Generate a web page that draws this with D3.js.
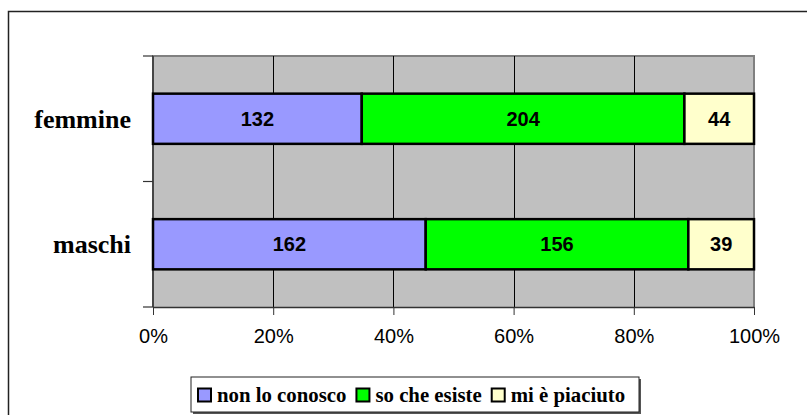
<!DOCTYPE html>
<html>
<head>
<meta charset="utf-8">
<script src="https://cdn.jsdelivr.net/npm/d3@7"></script>
<style>
  html, body { margin: 0; padding: 0; background: #fff; }
  svg { display: block; }
</style>
</head>
<body>
<svg id="chart" width="807" height="415"></svg>
<script>
/* ── DATA ── */
const categories = ['femmine', 'maschi'];
const seriesNames = ['non lo conosco', 'so che esiste', 'mi è piaciuto'];
const seriesColors = ['#9999ff', '#00ff00', '#ffffcc'];
const nonLoConosco = [132, 162];
const soCheEsiste = [204, 156];
const miEPiaciuto = [44, 39];
const tickValues = [0, 0.2, 0.4, 0.6, 0.8, 1];
const tickLabels = ['0%', '20%', '40%', '60%', '80%', '100%'];

/* ── CHART ── */
(function () {
  const svg = d3.select('#chart');
  const P = { left: 153, right: 754, top: 56, bottom: 307 };
  const SANS = '"Liberation Sans", Arial, sans-serif';
  const SERIF = '"Liberation Serif", "Times New Roman", serif';

  // outer frame (only top + left visible)
  svg.append('path')
    .attr('d', 'M8.5,415V11.5H807')
    .attr('fill', 'none').attr('stroke', '#222').attr('stroke-width', 1.5);

  const rows = categories.map((c, i) => ({
    cat: c,
    [seriesNames[0]]: nonLoConosco[i],
    [seriesNames[1]]: soCheEsiste[i],
    [seriesNames[2]]: miEPiaciuto[i]
  }));
  const stacked = d3.stack().keys(seriesNames).offset(d3.stackOffsetExpand)(rows);

  const x = d3.scaleLinear().domain([0, 1]).range([P.left, P.right]);
  const y = d3.scaleBand().domain(categories).range([P.top, P.bottom])
    .paddingInner(0.6).paddingOuter(0.3);

  // plot area
  svg.append('rect')
    .attr('x', P.left).attr('y', P.top)
    .attr('width', P.right - P.left).attr('height', P.bottom - P.top)
    .attr('fill', '#c0c0c0');
  svg.append('path')
    .attr('d', `M${P.left},${P.bottom}V${P.top}H${P.right}V${P.bottom}`)
    .attr('fill', 'none').attr('stroke', '#808080').attr('stroke-width', 2);

  // grid
  svg.append('g')
    .selectAll('line').data(tickValues.slice(1, -1)).join('line')
    .attr('x1', d => Math.round(x(d)) + 0.5).attr('x2', d => Math.round(x(d)) + 0.5)
    .attr('y1', P.top).attr('y2', P.bottom)
    .attr('stroke', '#000').attr('stroke-width', 1);

  // axes
  const xAxis = svg.append('g')
    .attr('transform', `translate(0,${P.bottom})`)
    .call(d3.axisBottom(x).tickValues(tickValues).tickFormat((d, i) => tickLabels[i])
      .tickSize(8).tickSizeOuter(0).tickPadding(14));
  xAxis.select('.domain').attr('stroke', '#333').attr('stroke-width', 1.5);
  xAxis.selectAll('.tick line').attr('stroke', '#333');
  xAxis.selectAll('text').attr('fill', '#000')
    .style('font-family', SANS).style('font-size', '20px');

  const yTicks = [P.top, (P.top + P.bottom) / 2, P.bottom];
  svg.append('line')
    .attr('x1', P.left).attr('x2', P.left).attr('y1', P.top).attr('y2', P.bottom)
    .attr('stroke', '#333').attr('stroke-width', 1.5);
  svg.append('g').selectAll('line').data(yTicks).join('line')
    .attr('x1', P.left - 10).attr('x2', P.left)
    .attr('y1', d => d).attr('y2', d => d)
    .attr('stroke', '#333').attr('stroke-width', 1.2);

  // category labels
  svg.append('g').selectAll('text').data(categories).join('text')
    .attr('x', 131).attr('y', d => y(d) + y.bandwidth() / 2)
    .attr('dy', '0.35em').attr('text-anchor', 'end')
    .style('font-family', SERIF).style('font-size', '26px').style('font-weight', 'bold')
    .text(d => d);

  // bars
  const layers = svg.append('g').selectAll('g').data(stacked).join('g')
    .attr('fill', (d, i) => seriesColors[i]);
  layers.selectAll('rect').data(d => d).join('rect')
    .attr('x', d => x(d[0])).attr('y', d => y(d.data.cat))
    .attr('width', d => x(d[1]) - x(d[0])).attr('height', y.bandwidth())
    .attr('stroke', '#000').attr('stroke-width', 2.5);

  // value labels
  layers.selectAll('text').data((d, i) => d.map(v => ({ v, key: d.key }))).join('text')
    .attr('x', d => (x(d.v[0]) + x(d.v[1])) / 2)
    .attr('y', d => y(d.v.data.cat) + y.bandwidth() / 2)
    .attr('dy', '0.36em').attr('text-anchor', 'middle').attr('fill', '#000')
    .style('font-family', SANS).style('font-size', '20px').style('font-weight', 'bold')
    .text(d => d.v.data[d.key]);

  // legend
  const leg = svg.append('g');
  const L = { x: 191, y: 377, w: 448, h: 35 };
  leg.append('rect').attr('x', L.x + 2).attr('y', L.y + 2).attr('width', L.w).attr('height', L.h)
    .attr('fill', '#555');
  leg.append('rect').attr('x', L.x).attr('y', L.y).attr('width', L.w).attr('height', L.h)
    .attr('fill', '#fff').attr('stroke', '#222').attr('stroke-width', 1);
  let cx = 198;
  seriesNames.forEach((name, i) => {
    leg.append('rect').attr('x', cx).attr('y', 388.5).attr('width', 13).attr('height', 13)
      .attr('fill', seriesColors[i]).attr('stroke', '#000').attr('stroke-width', 2);
    const t = leg.append('text').attr('x', cx + 19).attr('y', 402)
      .style('font-family', SERIF).style('font-size', '20.8px').style('font-weight', 'bold')
      .text(name);
    cx += 19 + t.node().getComputedTextLength() + 10;
  });
})();
</script>
</body>
</html>
